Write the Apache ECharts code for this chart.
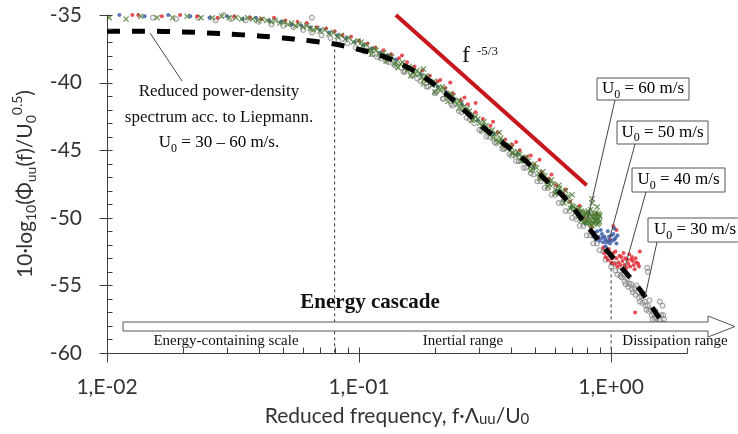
<!DOCTYPE html>
<html><head><meta charset="utf-8">
<script src="https://cdn.jsdelivr.net/npm/echarts@6/dist/echarts.min.js"></script>
<style>html,body{margin:0;padding:0;background:#fff}#c{width:738px;height:434px}</style>
</head><body><div id="c"></div><script>
// ---------------- data ----------------
const xTickValues = [0.01, 0.1, 1];
const xTickLabels = ['1,E-02', '1,E-01', '1,E+00'];
const xMinorTicks = [0.02,0.03,0.04,0.05,0.06,0.07,0.08,0.09,0.2,0.3,0.4,0.5,0.6,0.7,0.8,0.9,2];
const yTickValues = [-60, -55, -50, -45, -40, -35];
const yMinorTicks = [-59,-58,-57,-56,-54,-53,-52,-51,-49,-48,-47,-46,-44,-43,-42,-41,-39,-38,-37,-36];

// Liepmann reduced spectrum (dashed)
const liepmann = [[0.010,-36.2],[0.014,-36.2],[0.02,-36.25],[0.03,-36.4],[0.04,-36.55],[0.05,-36.7],[0.06,-36.85],[0.07,-37.0],[0.08,-37.15],[0.09,-37.35],[0.10,-37.55],[0.12,-37.95],[0.14,-38.45],[0.175,-39.4],[0.22,-40.8],[0.26,-42.0],[0.31,-43.3],[0.38,-44.6],[0.465,-45.9],[0.55,-47.2],[0.645,-48.4],[0.73,-49.6],[0.81,-50.7],[0.95,-52.3],[1.09,-53.6],[1.30,-55.3],[1.54,-57.3],[1.62,-57.9]];

// f^-5/3 reference line
const slopeLine = [[0.14,-35.0],[0.80,-47.6]];

// vertical dividers (x, top y)
const dividerX = [0.08, 1.0];
const dividerTop = [-37.1, -53.3];

// U0 = 60 m/s
const u60 = [[0.0102,-35.2],[0.0119,-35.3],[0.0136,-35.1],[0.0158,-35.2],[0.0182,-35.2],[0.0208,-35.1],[0.0236,-35.2],[0.0262,-35.2],[0.0285,-35.1],[0.0305,-35.2],[0.0325,-35.2],[0.0342,-35.3],[0.0361,-35.2],[0.0378,-35.3],[0.0395,-35.4],[0.0412,-35.3],[0.0431,-35.4],[0.0448,-35.5],[0.0466,-35.4],[0.0485,-35.6],[0.0503,-35.5],[0.0522,-35.7],[0.054,-35.6],[0.056,-35.8],[0.058,-35.7],[0.06,-35.9],[0.062,-35.8],[0.064,-36.0],[0.066,-36.1],[0.068,-36.0],[0.07,-36.2],[0.073,-36.1],[0.076,-36.4],[0.079,-36.3],[0.082,-36.6],[0.085,-36.5],[0.088,-36.8],[0.091,-36.7],[0.095,-37.0],[0.099,-36.9],[0.103,-37.3],[0.107,-37.2],[0.111,-37.6],[0.115,-37.5],[0.12,-37.9],[0.125,-37.8],[0.13,-38.2],[0.135,-38.1],[0.14,-38.5],[0.146,-38.6],[0.152,-38.9],[0.158,-38.8],[0.164,-39.2],[0.17,-39.1],[0.177,-39.6],[0.184,-39.5],[0.191,-40.0],[0.198,-39.9],[0.206,-40.4],[0.214,-40.3],[0.222,-40.9],[0.231,-40.8],[0.24,-41.4],[0.249,-41.3],[0.259,-41.8],[0.269,-41.9],[0.279,-42.4],[0.29,-42.5],[0.301,-43.0],[0.313,-42.9],[0.325,-43.6],[0.338,-43.5],[0.351,-44.2],[0.365,-44.1],[0.379,-44.7],[0.394,-44.6],[0.41,-45.2],[0.426,-45.1],[0.443,-45.6],[0.46,-45.5],[0.478,-46.2],[0.497,-46.0],[0.516,-46.7],[0.536,-46.6],[0.557,-47.3],[0.579,-47.2],[0.601,-47.9],[0.625,-47.8],[0.649,-48.5],[0.674,-48.4],[0.7,-49.1],[0.72,-49.3],[0.74,-49.6],[0.76,-49.5],[0.78,-49.9],[0.80,-49.7],[0.82,-50.1],[0.84,-49.9],[0.86,-50.2],[0.88,-50.0],[0.9,-50.3],[0.79,-50.3],[0.83,-50.5],[0.87,-49.6],[0.89,-49.7],[0.85,-50.4],[0.81,-49.5],[0.62,-47.6],[0.66,-48.0],[0.7,-48.3],[0.84,-48.6],[0.84,-48.9],[0.88,-49.2],[0.36,-43.7],[0.18,-39.0],
[0.102,-37.0],[0.109,-37.6],[0.117,-37.6],[0.123,-38.1],[0.132,-38.0],[0.138,-38.6],[0.149,-38.5],[0.155,-39.1],[0.161,-38.9],[0.167,-39.4],[0.174,-39.3],[0.181,-39.8],[0.188,-39.6],[0.195,-40.2],[0.202,-40.1],[0.21,-40.6],[0.218,-40.5],[0.227,-41.1],[0.236,-41.0],[0.245,-41.6],[0.254,-41.5],[0.264,-42.1],[0.274,-42.1],[0.285,-42.7],[0.296,-42.7],[0.307,-43.2],[0.319,-43.2],[0.332,-43.8],[0.345,-43.8],[0.358,-44.4],[0.372,-44.3],[0.387,-44.9],[0.402,-44.8],[0.418,-45.4],[0.434,-45.3],[0.451,-45.8],[0.469,-45.8],[0.487,-46.4],[0.506,-46.3],[0.526,-46.9],[0.546,-46.9],[0.568,-47.5],[0.59,-47.5],[0.613,-48.1],[0.637,-48.1],[0.661,-48.7],[0.687,-48.8],[0.71,-49.2],[0.73,-49.4],[0.75,-49.7],[0.77,-49.6],[0.77,-50.1],[0.79,-49.8],[0.81,-50.2],[0.83,-49.8],[0.85,-50.0],[0.87,-50.3],[0.89,-50.1],[0.86,-49.7],[0.82,-50.4],[0.88,-50.5],
[0.112,-37.9],[0.128,-38.4],[0.143,-38.9],[0.16,-39.5],[0.18,-40.1],[0.2,-40.7],[0.225,-41.4],[0.25,-41.9],[0.28,-42.8],[0.31,-43.5],[0.34,-44.1],[0.37,-44.6],[0.405,-45.2],[0.44,-45.8],[0.48,-46.5],[0.52,-47.1],[0.56,-47.7],[0.6,-48.2],[0.65,-48.9],[0.69,-49.3],[0.76,-50.2],[0.8,-50.4],[0.84,-50.6],[0.9,-49.9],
[0.72,-49.6],[0.74,-49.9],[0.76,-50.0],[0.78,-50.3],[0.8,-50.1],[0.82,-49.7],[0.84,-50.3],[0.86,-49.9],[0.88,-50.2],[0.9,-49.8],[0.75,-49.3],[0.79,-49.6],[0.83,-49.4],[0.87,-49.9],[0.89,-50.4]];

// U0 = 50 m/s
const u50 = [[0.0112,-35.0],[0.0141,-35.1],[0.0175,-35.0],[0.0214,-35.1],[0.0255,-35.2],[0.03,-35.1],[0.0345,-35.3],[0.039,-35.2],[0.044,-35.4],[0.049,-35.5],[0.054,-35.7],[0.059,-35.8],[0.064,-35.9],[0.07,-36.1],[0.076,-36.3],[0.082,-36.5],[0.089,-36.7],[0.096,-37.0],[0.104,-37.2],[0.112,-37.5],[0.121,-37.8],[0.13,-38.0],[0.14,-38.3],[0.151,-38.8],[0.163,-39.1],[0.176,-39.4],[0.19,-39.9],[0.205,-40.3],[0.221,-40.7],[0.238,-41.2],[0.256,-41.6],[0.275,-42.3],[0.296,-42.8],[0.318,-43.3],[0.342,-43.8],[0.368,-44.3],[0.396,-44.8],[0.426,-45.3],[0.458,-45.8],[0.492,-46.3],[0.528,-46.9],[0.566,-47.4],[0.607,-48.0],[0.65,-48.5],[0.696,-49.2],[0.745,-49.8],[0.79,-50.4],[0.83,-50.9],[0.86,-51.1],[0.89,-51.4],[0.92,-51.2],[0.95,-51.6],[0.98,-51.4],[1.01,-51.7],[1.04,-51.5],[0.93,-51.8],[0.97,-51.0],[1.02,-51.2],[0.88,-51.0],[1.05,-51.9],[0.99,-51.9],[0.91,-50.9],[1.03,-50.8],[0.95,-52.1],
[0.85,-51.4],[0.87,-51.6],[0.9,-51.7],[0.94,-51.4],[0.96,-51.8],[1.0,-51.3],[1.03,-51.6],[1.06,-51.3],[0.92,-51.5],[0.98,-51.7]];

// U0 = 40 m/s
const u40 = [[0.0126,-35.0],[0.0133,-35.0],[0.0165,-35.1],[0.0195,-35.0],[0.0228,-35.1],[0.0275,-35.2],[0.032,-35.1],[0.037,-35.2],[0.041,-35.3],[0.046,-35.2],[0.051,-35.4],[0.057,-35.5],[0.062,-35.6],[0.068,-35.9],[0.074,-36.0],[0.08,-36.2],[0.086,-36.5],[0.093,-36.6],[0.1,-36.9],[0.108,-37.1],[0.116,-37.4],[0.125,-37.6],[0.134,-37.9],[0.144,-38.2],[0.155,-38.5],[0.166,-38.8],[0.178,-39.1],[0.191,-39.5],[0.205,-39.9],[0.22,-40.4],[0.236,-40.8],[0.253,-41.3],[0.27,-41.6],[0.29,-42.2],[0.31,-42.7],[0.332,-43.2],[0.355,-43.7],[0.38,-44.2],[0.406,-44.6],[0.434,-45.0],[0.464,-45.5],[0.496,-46.1],[0.53,-46.6],[0.566,-47.1],[0.604,-47.6],[0.645,-48.2],[0.688,-48.8],[0.734,-49.4],[0.783,-50.0],[0.835,-50.7],[0.89,-51.5],[0.93,-52.2],[0.96,-52.5],[0.99,-52.8],[1.02,-52.6],[1.05,-53.0],[1.08,-52.8],[1.11,-53.2],[1.14,-53.0],[1.17,-53.4],[1.2,-53.1],[1.23,-53.5],[1.26,-53.3],[1.29,-53.6],[1.0,-53.3],[1.06,-53.6],[1.12,-52.6],[1.18,-52.7],[1.24,-53.8],[0.97,-53.1],[1.15,-53.7],[1.21,-52.9],[0.29,-41.5],[0.23,-40.0],[0.52,-45.7],[0.88,-49.7],[1.02,-50.6],[1.05,-50.9],[1.245,-57.0],[0.99,-51.6],[1.3,-52.5],
[0.94,-52.6],[0.98,-52.3],[1.01,-53.0],[1.04,-52.5],[1.07,-53.3],[1.1,-52.9],[1.13,-53.5],[1.16,-53.1],[1.19,-53.6],[1.22,-53.2],[1.25,-53.0],[1.28,-53.4],[1.09,-53.5],[1.03,-53.4],[0.95,-52.9],
[0.148,-38.0],[0.21,-39.8],[0.262,-41.1],[0.34,-42.9],[0.42,-44.4],[0.48,-45.4],[0.58,-46.8],[0.66,-47.9],[0.75,-49.1]];

// U0 = 30 m/s
const u30 = [[0.0123,-34.8],[0.0152,-35.2],[0.0188,-35.3],[0.023,-35.2],[0.027,-35.4],[0.031,-35.3],[0.0355,-35.4],[0.04,-35.5],[0.045,-35.7],[0.05,-35.8],[0.055,-35.9],[0.06,-36.1],[0.065,-36.3],[0.071,-36.5],[0.077,-36.7],[0.083,-36.9],[0.09,-37.1],[0.097,-37.4],[0.105,-37.7],[0.113,-37.9],[0.122,-38.2],[0.131,-38.5],[0.141,-38.8],[0.152,-39.2],[0.163,-39.5],[0.175,-39.9],[0.188,-40.3],[0.202,-40.7],[0.216,-41.2],[0.232,-41.6],[0.249,-42.1],[0.267,-42.6],[0.286,-43.0],[0.306,-43.6],[0.328,-44.0],[0.351,-44.5],[0.376,-44.9],[0.402,-45.4],[0.43,-45.8],[0.46,-46.3],[0.492,-46.8],[0.526,-47.3],[0.562,-47.8],[0.6,-48.3],[0.64,-48.9],[0.683,-49.5],[0.728,-50.1],[0.776,-50.6],[0.826,-51.3],[0.878,-51.9],[0.932,-52.5],[0.98,-53.0],[1.03,-53.4],[1.08,-53.9],[1.12,-54.2],[1.16,-54.5],[1.2,-54.9],[1.24,-55.2],[1.28,-55.5],[1.32,-55.8],[1.36,-56.2],[1.4,-56.5],[1.44,-56.8],[1.48,-57.1],[1.52,-57.4],[1.56,-57.6],[1.6,-57.8],[1.64,-57.9],[1.1,-54.4],[1.18,-54.9],[1.26,-55.0],[1.34,-55.6],[1.42,-56.1],[1.5,-56.9],[1.58,-57.2],[1.62,-57.5],[1.55,-57.9],[1.46,-57.5],[1.38,-56.8],[1.3,-56.2],[1.22,-55.5],[1.14,-54.9],[1.06,-54.2],[0.95,-53.1],[1.39,-53.7],[1.40,-54.0],[1.56,-56.2],[1.6,-56.5],[0.065,-35.2],[0.029,-35.0],[0.95,-52.3],
[0.118,-38.1],[0.128,-38.4],[0.138,-38.7],[0.15,-39.2],[0.17,-39.7],[0.185,-40.3],[0.2,-40.8],[0.215,-41.2],[0.235,-41.7],[0.255,-42.2],[0.275,-42.7],[0.3,-43.5],[0.32,-44.0],[0.345,-44.4],[0.37,-44.9],[0.395,-45.3],[0.42,-45.8],[0.45,-46.3],[0.48,-46.7],[0.51,-47.3],[0.545,-47.8],[0.58,-48.3],[0.62,-48.9],[0.66,-49.5],[0.7,-50.0],[0.75,-50.6],[0.8,-51.3],[0.85,-51.9],[0.9,-52.4],
[1.0,-53.6],[1.04,-53.9],[1.09,-54.3],[1.13,-54.7],[1.17,-55.1],[1.21,-55.3],[1.25,-55.7],[1.29,-55.9],[1.33,-56.3],[1.37,-56.5],[1.41,-56.9],[1.45,-57.2],[1.49,-57.4],[1.53,-57.8],[1.57,-57.9],[1.61,-57.2]];

// ---------------- chart ----------------
const sans = 'Lato, "Open Sans", sans-serif';
const serif = '"Liberation Serif", "Times New Roman", serif';
const ink = '#333333';
const axisInk = '#404040';

const tickData = [];
xTickValues.forEach(v => tickData.push([v, -60, 0]));
xMinorTicks.forEach(v => tickData.push([v, -60, 1]));
yTickValues.forEach(v => tickData.push([0.01, v, 2]));
yMinorTicks.forEach(v => tickData.push([0.01, v, 3]));

const crossPath = 'path://M0,1.5L1.5,0L5,3.5L8.5,0L10,1.5L6.5,5L10,8.5L8.5,10L5,6.5L1.5,10L0,8.5L3.5,5Z';

const nameRich = {
  b: {fontSize: 21, fontFamily: sans, color: ink, lineHeight: 28},
  s: {fontSize: 14, fontFamily: sans, color: ink, lineHeight: 16, verticalAlign: 'bottom'},
  p: {fontSize: 14, fontFamily: sans, color: ink, lineHeight: 16, verticalAlign: 'top'}
};
const serifRich = (fs) => ({
  b: {fontSize: fs, fontFamily: serif, color: '#111', lineHeight: fs + 6},
  s: {fontSize: Math.round(fs * 0.68), fontFamily: serif, color: '#111', lineHeight: Math.round(fs * 0.68) + 4, verticalAlign: 'bottom'}
});

function labelBox(x, y, w, h, txt) {
  return {
    type: 'group', z: 20, children: [
      {type: 'rect', shape: {x: x, y: y, width: w, height: h}, style: {fill: '#fff', stroke: '#555', lineWidth: 1}},
      {type: 'text', x: x + w / 2, y: y + h / 2, style: {text: txt, rich: serifRich(17), align: 'center', verticalAlign: 'middle'}}
    ]
  };
}
function leader(x1, y1, x2, y2) {
  return {type: 'line', z: 15, shape: {x1, y1, x2, y2}, style: {stroke: '#444', lineWidth: 1}};
}

const dividerSeries = dividerX.map((x, i) => ({
  type: 'line', data: [[x, dividerTop[i]], [x, -60]], showSymbol: false, symbol: 'none', silent: true, z: 4,
  lineStyle: {color: '#333', width: 1, type: [3, 3]}, clip: false
}));

const option = {
  animation: false,
  backgroundColor: '#fff',
  grid: {left: 107, right: 51, top: 15, bottom: 81},
  xAxis: {
    type: 'log', logBase: 10, min: 0.01, max: 2,
    axisLine: {show: true, onZero: false, lineStyle: {color: axisInk, width: 1}},
    axisTick: {show: false}, splitLine: {show: false}, minorTick: {show: false},
    axisLabel: {
      margin: 24, fontSize: 21, fontFamily: sans, color: ink, showMaxLabel: true,
      formatter: function (v) {
        for (let i = 0; i < xTickValues.length; i++) {
          if (Math.abs(Math.log10(v) - Math.log10(xTickValues[i])) < 1e-6) return xTickLabels[i];
        }
        return '';
      }
    },
    name: 'Reduced frequency, f·Λ{s|uu}/U{s|0}',
    nameLocation: 'middle', nameGap: 53,
    nameTextStyle: {fontSize: 21, fontFamily: sans, color: ink, rich: {
      s: {fontSize: 15, fontFamily: sans, color: ink, lineHeight: 18, verticalAlign: 'bottom'}
    }}
  },
  yAxis: {
    type: 'value', min: -60, max: -35, interval: 5,
    axisLine: {show: true, onZero: false, lineStyle: {color: axisInk, width: 1}},
    axisTick: {show: false}, splitLine: {show: false},
    axisLabel: {margin: 25, fontSize: 21, fontFamily: sans, color: ink},
    name: '{b|10·log}{s|10}{b|(Φ}{s|uu}{b|(f)/U}{s|0}{p|0.5}{b|)}',
    nameLocation: 'middle', nameRotate: 90, nameGap: 66,
    nameTextStyle: {rich: nameRich}
  },
  series: [
    {
      name: 'ticks', type: 'custom', silent: true, clip: false, z: 6,
      encode: {x: 0, y: 1},
      data: tickData,
      renderItem: function (params, api) {
        const k = api.value(2);
        const p = api.coord([api.value(0), api.value(1)]);
        const x = Math.round(p[0]) + 0.5, y = Math.round(p[1]) + 0.5;
        let s;
        if (k === 0) s = {x1: x, y1: y - 6, x2: x, y2: y + 9};
        else if (k === 1) s = {x1: x, y1: y - 6, x2: x, y2: y};
        else if (k === 2) s = {x1: x - 8, y1: y, x2: x + 5, y2: y};
        else s = {x1: x, y1: y, x2: x + 5, y2: y};
        return {type: 'line', shape: s, style: {stroke: axisInk, lineWidth: 1}};
      }
    },
    {
      name: 'U0 = 30 m/s', type: 'scatter', data: u30, symbol: 'circle', symbolSize: 5, z: 2,
      itemStyle: {color: 'rgba(150,150,150,0.2)', borderColor: '#808080', borderWidth: 1}
    },
    {
      name: 'U0 = 40 m/s', type: 'scatter', data: u40, symbol: 'circle', symbolSize: 4, z: 2,
      itemStyle: {color: '#e0202a'}
    },
    {
      name: 'U0 = 50 m/s', type: 'scatter', data: u50, symbol: 'circle', symbolSize: 4, z: 2,
      itemStyle: {color: '#2f54a0'}
    },
    {
      name: 'U0 = 60 m/s', type: 'scatter', data: u60, symbol: crossPath, symbolSize: 6, z: 2,
      itemStyle: {color: '#4a7a30'}
    },
    {
      name: 'Liepmann', type: 'line', data: liepmann, showSymbol: false, symbol: 'none', smooth: 0.3, z: 5,
      lineStyle: {color: '#000', width: 5, type: [13, 12], cap: 'butt'}, clip: false
    },
    {
      name: 'slope', type: 'line', data: slopeLine, showSymbol: false, symbol: 'none', z: 5, clip: false,
      lineStyle: {color: '#c8161d', width: 4}
    }
  ].concat(dividerSeries),
  graphic: [
    leader(150, 33, 182, 81),
    {type: 'text', x: 219, y: 92, z: 10, style: {text: 'Reduced power-density', fontSize: 17, fontFamily: serif, fill: '#111', align: 'center', verticalAlign: 'middle'}},
    {type: 'text', x: 219, y: 118, z: 10, style: {text: 'spectrum acc. to Liepmann.', fontSize: 17, fontFamily: serif, fill: '#111', align: 'center', verticalAlign: 'middle'}},
    {type: 'text', x: 219, y: 143, z: 10, style: {text: '{b|U}{s|0}{b| = 30 – 60 m/s.}', rich: serifRich(17), align: 'center', verticalAlign: 'middle'}},
    {type: 'text', x: 462, y: 56, z: 10, style: {text: 'f', fontSize: 24, fontFamily: serif, fill: '#111', align: 'left', verticalAlign: 'middle'}},
    {type: 'text', x: 477, y: 52, z: 10, style: {text: '-5/3', fontSize: 13, fontFamily: serif, fill: '#111', align: 'left', verticalAlign: 'middle'}},
    leader(615, 100, 588, 218),
    leader(635, 144, 610, 237),
    leader(646, 192, 625, 267),
    leader(657, 242, 645, 297),
    labelBox(597, 78, 92, 22, '{b|U}{s|0}{b| = 60 m/s}'),
    labelBox(617, 121, 91, 23, '{b|U}{s|0}{b| = 50 m/s}'),
    labelBox(632, 168, 93, 24, '{b|U}{s|0}{b| = 40 m/s}'),
    labelBox(648, 218, 94, 24, '{b|U}{s|0}{b| = 30 m/s}'),
    {type: 'polygon', z: 12, shape: {points: [[123,322],[708,322],[708,316],[735,326.5],[708,337],[708,331],[123,331]]}, style: {fill: '#fff', stroke: '#555', lineWidth: 1}},
    {type: 'text', x: 370, y: 303, z: 12, style: {text: 'Energy cascade', fontSize: 21, fontWeight: 'bold', fontFamily: serif, fill: '#111', align: 'center', verticalAlign: 'middle'}},
    {type: 'text', x: 226, y: 341, z: 12, style: {text: 'Energy-containing scale', fontSize: 15, fontFamily: serif, fill: '#111', align: 'center', verticalAlign: 'middle'}},
    {type: 'text', x: 463, y: 341, z: 12, style: {text: 'Inertial range', fontSize: 15, fontFamily: serif, fill: '#111', align: 'center', verticalAlign: 'middle'}},
    {type: 'text', x: 675, y: 341, z: 12, style: {text: 'Dissipation range', fontSize: 15, fontFamily: serif, fill: '#111', align: 'center', verticalAlign: 'middle'}}
  ]
};

const chart = echarts.init(document.getElementById('c'), null, {renderer: 'canvas'});
chart.setOption(option);
</script></body></html>
